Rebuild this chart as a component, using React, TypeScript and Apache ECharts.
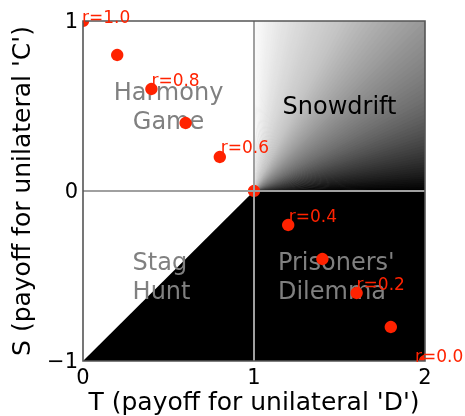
import React, { useEffect, useRef } from 'react';
import * as echarts from 'echarts';

// ---- data ----
const rValues = [1.0, 0.9, 0.8, 0.7, 0.6, 0.5, 0.4, 0.3, 0.2, 0.1, 0.0];
const tValues = [0, 0.2, 0.4, 0.6, 0.8, 1.0, 1.2, 1.4, 1.6, 1.8, 2.0];
const sValues = [1, 0.8, 0.6, 0.4, 0.2, 0, -0.2, -0.4, -0.6, -0.8, -1];
const pointLabels = ['r=1.0', '', 'r=0.8', '', 'r=0.6', '', 'r=0.4', '', 'r=0.2', '', 'r=0.0'];

const xTicks = [0, 1, 2];
const yTicks = [-1, 0, 1];

// regions in (T, S) data space
const stagHuntDefectRegion = [[0, -1], [1, 0], [1, -1]];
const prisonersRegion = [[1, -1], [2, -1], [2, 0], [1, 0]];
const snowdriftApex = [1, 0];
const snowdriftBox = [[1, 0], [2, 1]];
// cooperation level in snowdrift -> grey level
const snowdriftShade = [[0, 0], [0.33, 105], [0.5, 152], [0.67, 198], [1, 252]];

const regionNames = ['Harmony\nGame', 'Snowdrift', 'Stag\nHunt', "Prisoners'\nDilemma"];
const regionAnchors = [[0.5, 0.5], [1.5, 0.5], [0.29, -0.5], [1.14, -0.5]];

// ---- styling ----
const FONT = 'DejaVu Sans';
const RED = '#ff2200';
const LABEL_NUDGE = [[-1, -4], [0, -9], [1, -10], [0.5, -9], [0, -9], [-10, -5.5]];

function shadeAt(v: number): string {
  let g = snowdriftShade[snowdriftShade.length - 1][1];
  for (let i = 0; i < snowdriftShade.length - 1; i++) {
    const [a, ga] = snowdriftShade[i];
    const [b, gb] = snowdriftShade[i + 1];
    if (v >= a && v <= b) {
      g = ga + ((v - a) / (b - a)) * (gb - ga);
      break;
    }
  }
  const c = Math.round(g);
  return `rgb(${c},${c},${c})`;
}

export default function App() {
  const ref = useRef<HTMLDivElement>(null);
  useEffect(() => {
    if (!ref.current) return;
    const chart = echarts.init(ref.current, null, { renderer: 'svg' });

    const pointData = tValues.map((t, i) => [t, sValues[i], rValues[i]]);
    const labelIndex: number[] = [];
    let k = 0;
    pointLabels.forEach((l) => { labelIndex.push(l ? k++ : -1); });

    const bgRender = (params: any, api: any) => {
      const children: any[] = [];
      const c = (p: number[]) => api.coord(p);
      const N = 90;
      const [x0, y0] = snowdriftBox[0];
      const [x1, y1] = snowdriftBox[1];
      const w = x1 - x0, h = y1 - y0;
      const bp = (v: number) => {
        const m = Math.max(1 - v, v);
        return [snowdriftApex[0] + ((1 - v) / m) * w, snowdriftApex[1] + (v / m) * h];
      };
      const corner = [x1, y1];
      children.push({
        type: 'rect',
        shape: (() => {
          const a = c([x0, y1]);
          const b = c([x1, y0]);
          return { x: a[0], y: a[1], width: b[0] - a[0], height: b[1] - a[1] };
        })(),
        style: { fill: shadeAt(0.5) },
      });
      for (let i = 0; i < N; i++) {
        const v0 = i / N;
        const v1 = Math.min(1, (i + 1.6) / N);
        const col = shadeAt((i + 0.5) / N);
        const pts = [c(snowdriftApex), c(bp(v0))];
        if (v0 < 0.5 && v1 > 0.5) pts.push(c(corner));
        pts.push(c(bp(v1)));
        children.push({
          type: 'polygon',
          shape: { points: pts },
          style: { fill: col },
        });
      }
      children.push({
        type: 'polygon',
        shape: { points: stagHuntDefectRegion.map(c) },
        style: { fill: '#000' },
      });
      children.push({
        type: 'polygon',
        shape: { points: prisonersRegion.map(c) },
        style: { fill: '#000' },
      });
      return { type: 'group', children };
    };

    const option: any = {
      animation: false,
      textStyle: { fontFamily: FONT },
      grid: { left: 83, top: 21, width: 342, height: 340, containLabel: false, outerBoundsMode: 'none' },
      xAxis: {
        type: 'value',
        min: xTicks[0],
        max: xTicks[xTicks.length - 1],
        interval: 1,
        axisLine: { show: false },
        axisTick: { show: false },
        splitLine: { show: false },
        axisLabel: { fontSize: 21, color: '#000', margin: 5, fontFamily: FONT },
        name: "T (payoff for unilateral 'D')",
        nameLocation: 'middle',
        nameGap: 28,
        nameMoveOverlap: false,
        nameTextStyle: { fontSize: 25, color: '#000', fontFamily: FONT },
      },
      yAxis: {
        type: 'value',
        min: yTicks[0],
        max: yTicks[yTicks.length - 1],
        interval: 1,
        axisLine: { show: false },
        axisTick: { show: false },
        splitLine: { show: false },
        axisLabel: {
          fontSize: 21, color: '#000', margin: 5, fontFamily: FONT,
          formatter: (v: number) => (v < 0 ? '\u2212' + Math.abs(v) : String(v)),
        },
        name: "S (payoff for unilateral 'C')",
        nameLocation: 'middle',
        nameGap: 49,
        nameMoveOverlap: false,
        nameTextStyle: { fontSize: 25, color: '#000', fontFamily: FONT },
      },
      series: [
        {
          type: 'custom',
          z: 1,
          clip: true,
          silent: true,
          data: [[1, 0]],
          renderItem: bgRender,
        },
        {
          type: 'custom',
          z: 2,
          clip: false,
          silent: true,
          data: regionAnchors,
          renderItem: (params: any, api: any) => {
            const idx = params.dataIndex;
            const p = api.coord([api.value(0), api.value(1)]);
            return {
              type: 'text',
              x: p[0],
              y: p[1],
              style: {
                text: regionNames[idx],
                fill: idx === 1 ? '#000000' : '#808080',
                fontSize: 24,
                lineHeight: 29,
                fontFamily: FONT,
                align: idx >= 2 ? 'left' : 'center',
                verticalAlign: 'middle',
              },
            };
          },
        },
        {
          type: 'custom',
          z: 3,
          clip: true,
          silent: true,
          data: pointData,
          renderItem: (params: any, api: any) => {
            const p = api.coord([api.value(0), api.value(1)]);
            return { type: 'circle', shape: { cx: p[0], cy: p[1], r: 6.2 }, style: { fill: RED } };
          },
        },
        {
          type: 'custom',
          z: 4,
          clip: false,
          silent: true,
          data: [[1, 0]],
          renderItem: (params: any, api: any) => {
            const children: any[] = [];
            xTicks.slice(1, -1).forEach((t) => {
              const a = api.coord([t, yTicks[0]]);
              const b = api.coord([t, yTicks[yTicks.length - 1]]);
              children.push({ type: 'line', shape: { x1: a[0], y1: a[1], x2: b[0], y2: b[1] }, style: { stroke: '#a0a0a0', lineWidth: 2 } });
            });
            yTicks.slice(1, -1).forEach((s) => {
              const a = api.coord([xTicks[0], s]);
              const b = api.coord([xTicks[xTicks.length - 1], s]);
              children.push({ type: 'line', shape: { x1: a[0], y1: a[1], x2: b[0], y2: b[1] }, style: { stroke: '#a0a0a0', lineWidth: 2 } });
            });
            const tl = api.coord([xTicks[0], yTicks[yTicks.length - 1]]);
            const br = api.coord([xTicks[xTicks.length - 1], yTicks[0]]);
            children.push({
              type: 'rect',
              shape: { x: tl[0], y: tl[1], width: br[0] - tl[0], height: br[1] - tl[1] },
              style: { fill: 'none', stroke: '#555555', lineWidth: 1.6 },
            });
            return { type: 'group', children };
          },
        },
        {
          type: 'custom',
          z: 5,
          clip: false,
          silent: true,
          data: pointData,
          renderItem: (params: any, api: any) => {
            const idx = params.dataIndex;
            const text = pointLabels[idx];
            if (!text) return null;
            const p = api.coord([api.value(0), api.value(1)]);
            const nudge = LABEL_NUDGE[labelIndex[idx]] || [0, -8];
            return {
              type: 'text',
              x: p[0] + nudge[0],
              y: p[1] + nudge[1],
              style: {
                text,
                fill: RED,
                fontSize: 17,
                fontFamily: FONT,
                align: 'left',
                verticalAlign: 'middle',
              },
            };
          },
        },
      ],
    };
    chart.setOption(option);
    return () => chart.dispose();
  }, []);
  return <div ref={ref} style={{ position: 'fixed', left: 0, top: 0, width: 465, height: 416 }} />;
}
